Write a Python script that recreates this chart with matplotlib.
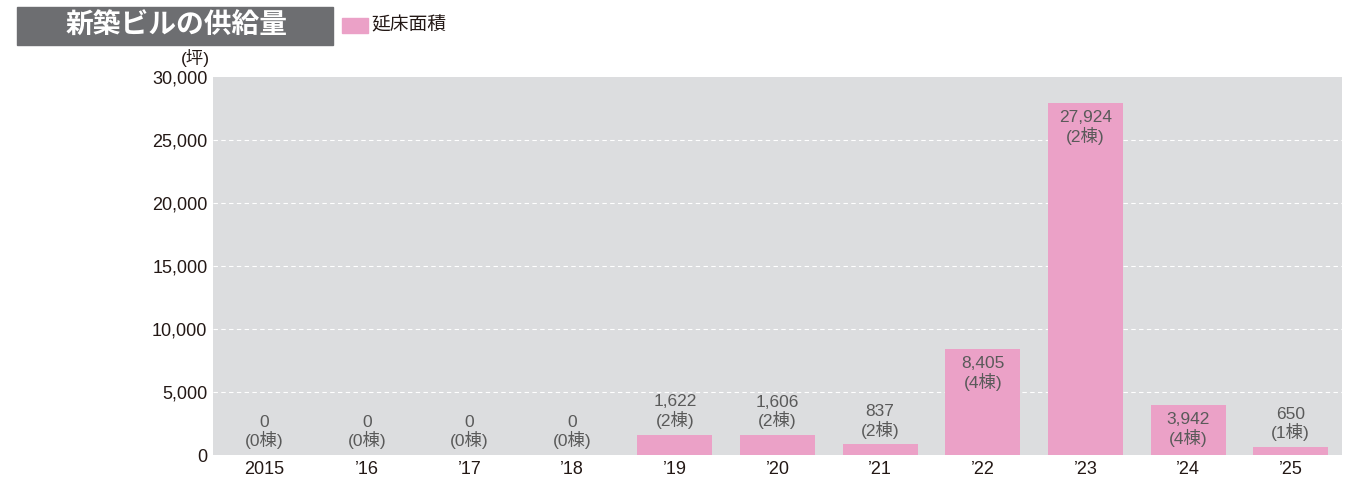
import matplotlib.pyplot as plt
from matplotlib.patches import Rectangle

plt.rcParams['font.family'] = ['Liberation Sans', 'Noto Sans CJK JP', 'DejaVu Sans']

# 年次と延床面積(坪)、棟数
years = ['2015', '’16', '’17', '’18', '’19', '’20', '’21', '’22', '’23', '’24', '’25']
area = [0, 0, 0, 0, 1622, 1606, 837, 8405, 27924, 3942, 650]
count = [0, 0, 0, 0, 2, 2, 2, 4, 2, 4, 1]
yticks = [0, 5000, 10000, 15000, 20000, 25000, 30000]

bar_color = '#eba1c7'
bg_color = '#dcdddf'
label_color = '#5a5a5a'

fig = plt.figure(figsize=(13.66, 4.83), dpi=100)
ax = fig.add_axes([213 / 1366, 1 - 455 / 483, 1129 / 1366, 378 / 483])
ax.set_facecolor(bg_color)

x = range(len(years))
ax.bar(x, area, width=0.73, color=bar_color, zorder=3)
ax.set_xlim(-0.5, len(years) - 0.5)
ax.set_ylim(0, 30000)

ax.set_yticks(yticks)
ax.set_yticklabels([f'{v:,}' for v in yticks], fontsize=13, color='#231815')
ax.set_xticks(list(x))
ax.set_xticklabels(years, fontsize=13, color='#231815')
ax.tick_params(length=0, axis='y', pad=4)
ax.tick_params(length=0, axis='x', pad=4)
for s in ax.spines.values():
    s.set_visible(False)
# 破線の目盛線(上端は描かない)
for v in yticks[1:-1]:
    ax.axhline(v, color='white', linestyle=(0, (4, 3)), linewidth=0.8, zorder=1)

# 棒ごとの数値ラベル(高い棒は内側、低い棒は上側)
for i, (v, c) in enumerate(zip(area, count)):
    txt = f'{v:,}\n({c}棟)'
    if v > 3000:
        ax.annotate(txt, (i, v), xytext=(0, -5), textcoords='offset points',
                    ha='center', va='top', fontsize=12.5, color=label_color,
                    linespacing=1.1)
    else:
        ax.annotate(txt, (i, v), xytext=(0, 4), textcoords='offset points',
                    ha='center', va='bottom', fontsize=12.5, color=label_color,
                    linespacing=1.1)

fig.text(210 / 1366, 1 - 58 / 483, '(坪)', ha='right', va='center',
         fontsize=12.5, color='#231815')

# タイトルボックスと凡例
fig.patches.append(Rectangle((17 / 1366, 1 - 45 / 483), 316 / 1366, 38 / 483,
                             transform=fig.transFigure, color='#6d6e71'))
fig.text(177 / 1366, 1 - 27 / 483, '新築ビルの供給量', ha='center', va='center',
         fontsize=20, fontweight='bold', color='white')
fig.patches.append(Rectangle((342 / 1366, 1 - 33 / 483), 26 / 1366, 15 / 483,
                             transform=fig.transFigure, color=bar_color))
fig.text(371 / 1366, 1 - 26 / 483, '延床面積', ha='left', va='center',
         fontsize=13.5, color='#231815')

fig.savefig('out.png', dpi=100)
